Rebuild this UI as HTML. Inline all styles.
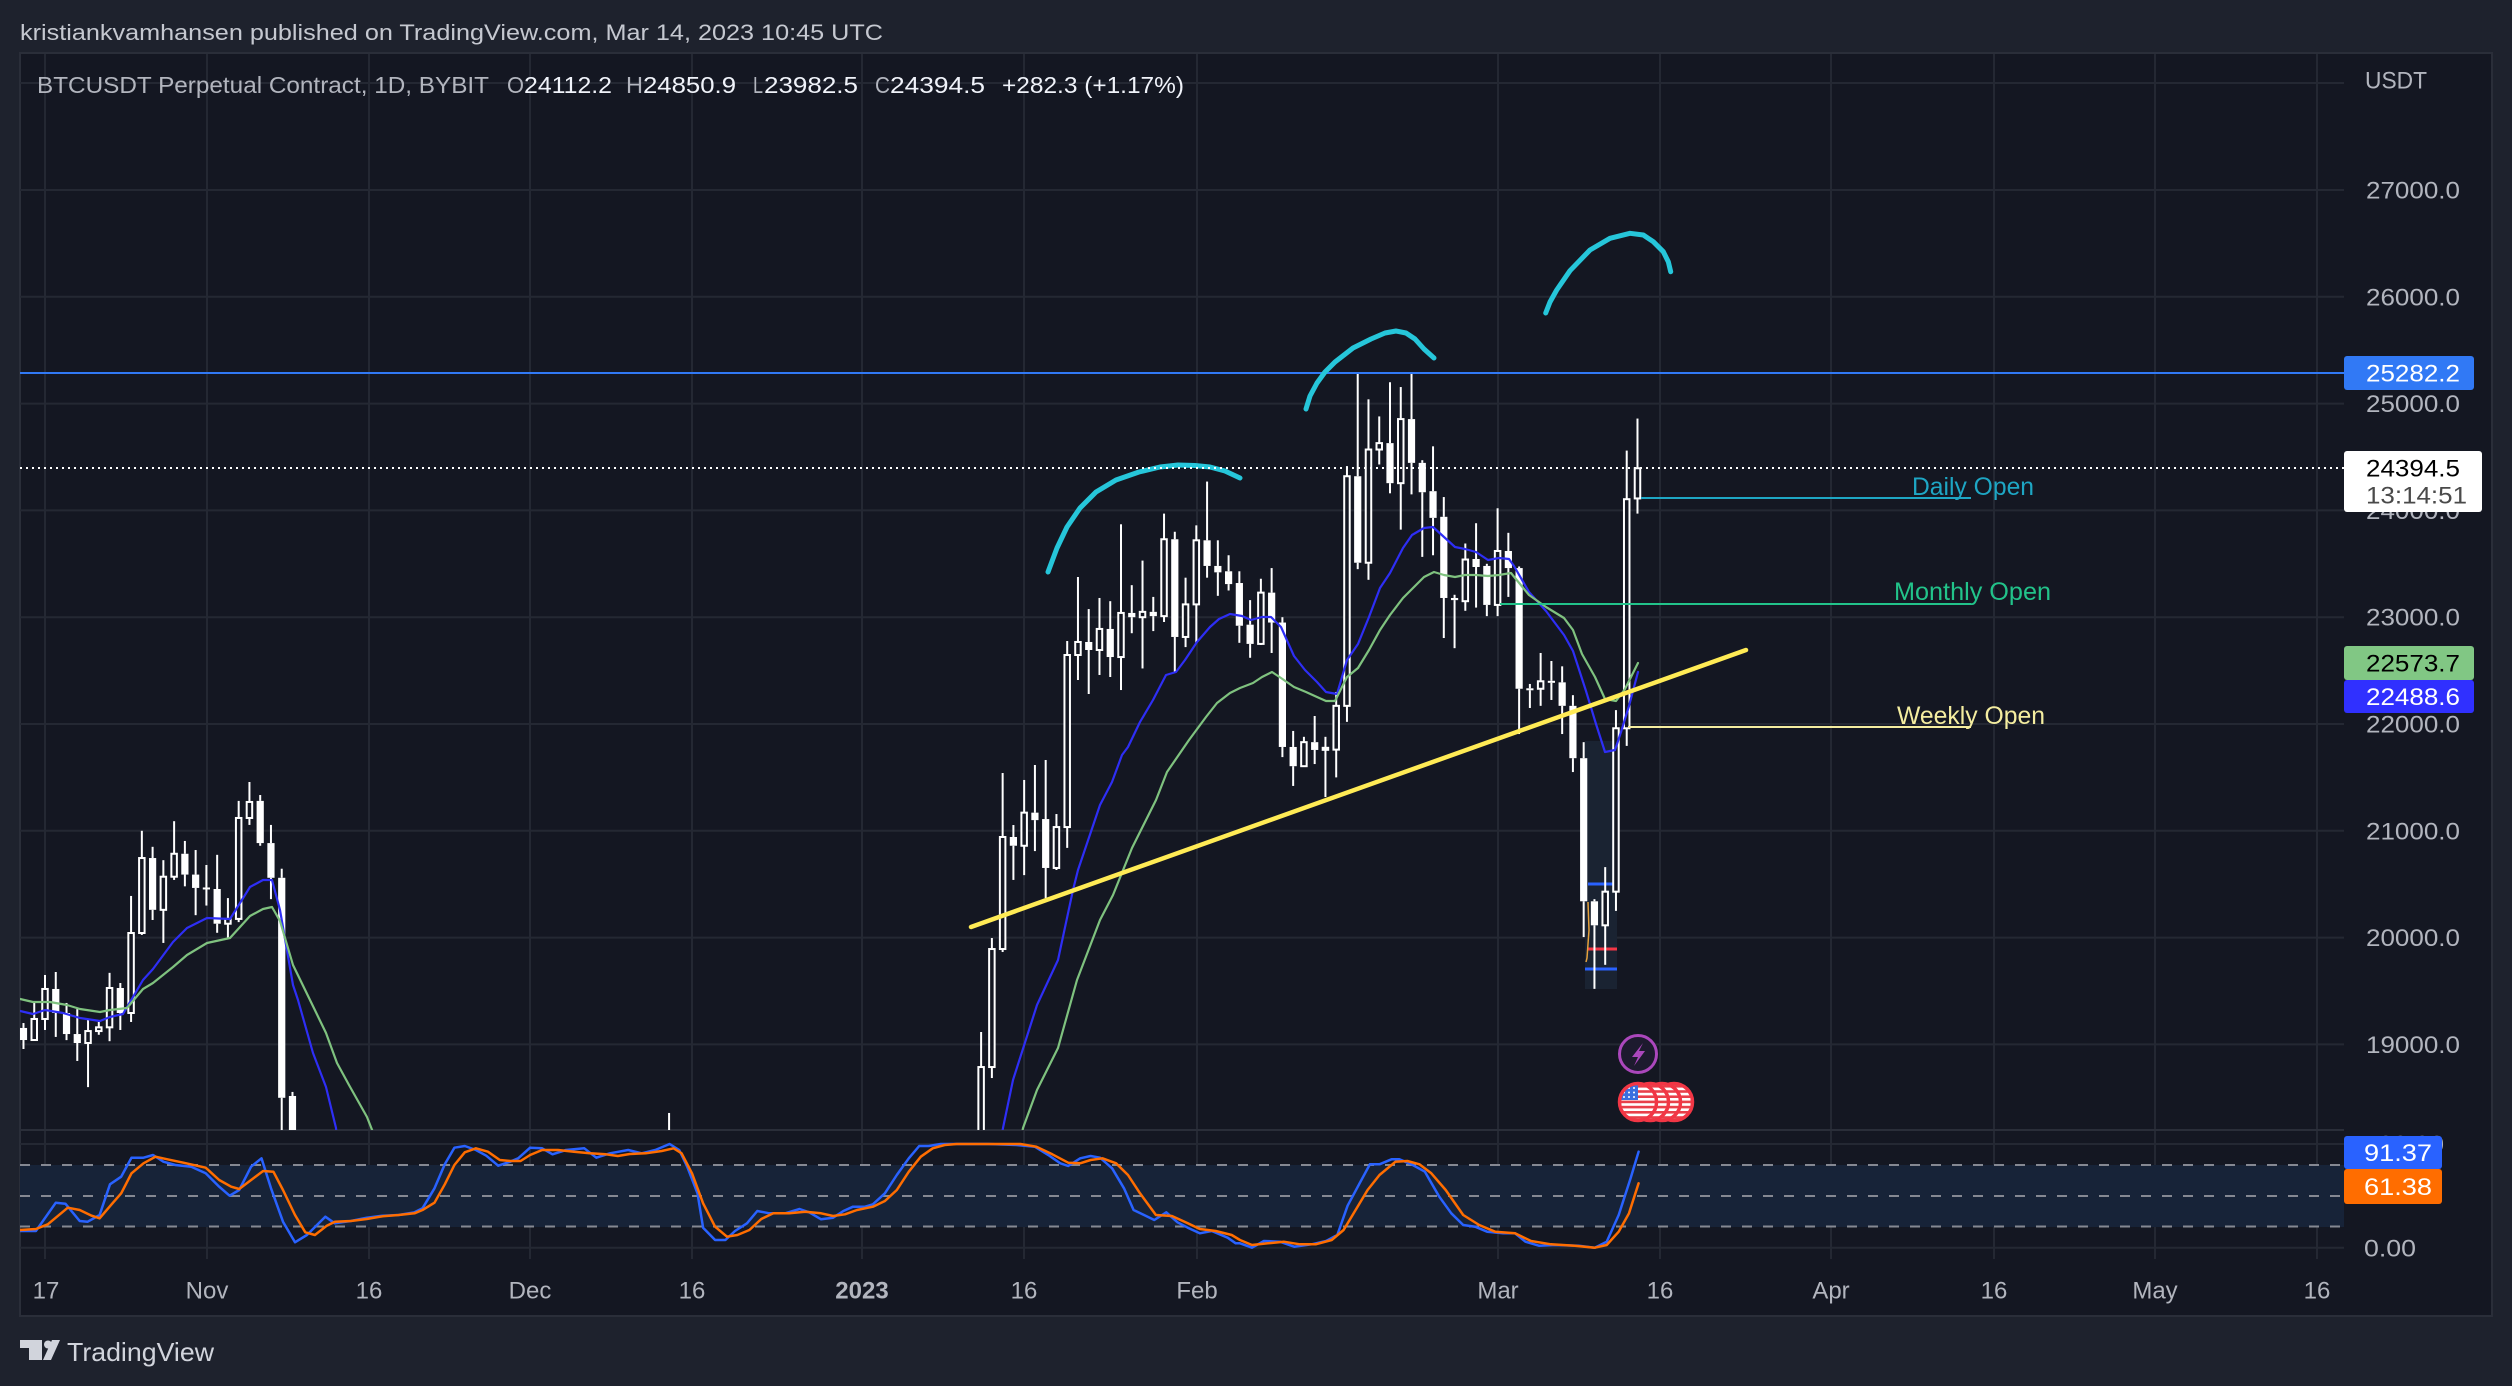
<!DOCTYPE html>
<html><head><meta charset="utf-8"><title>BTCUSDT chart</title>
<style>
html,body{margin:0;padding:0;background:#1e222d;overflow:hidden;}
svg{display:block;}
text{font-family:"Liberation Sans",sans-serif;}
</style></head>
<body>
<svg id="s" width="2512" height="1386" viewBox="0 0 2512 1386" xmlns="http://www.w3.org/2000/svg">
<defs>
<clipPath id="cm"><rect x="20" y="54" width="2324" height="1076"/></clipPath>
<clipPath id="cs"><rect x="20" y="1131" width="2324" height="128"/></clipPath>
<clipPath id="cf1"><circle cx="1638" cy="1102" r="17"/></clipPath>
<clipPath id="cf2"><circle cx="1650" cy="1102" r="17"/></clipPath>
<clipPath id="cf3"><circle cx="1662" cy="1102" r="17"/></clipPath>
<clipPath id="cf4"><circle cx="1674" cy="1102" r="17"/></clipPath>
</defs>
<rect x="0" y="0" width="2512" height="1386" fill="#1e222d"/>
<text x="20" y="40" font-size="22" fill="#c5c8d0" textLength="863" lengthAdjust="spacingAndGlyphs">kristiankvamhansen published on TradingView.com, Mar 14, 2023 10:45 UTC</text>
<rect x="20" y="53" width="2472" height="1263" fill="#141722" stroke="#2a2e39" stroke-width="2"/>
<g id="grid" stroke="#242833" stroke-width="2"></g>
<!-- stoch band -->
<rect x="20" y="1165" width="2324" height="62" fill="#172338"/>
<g stroke="#858892" stroke-width="2" stroke-dasharray="10 11">
<line x1="20" y1="1165" x2="2344" y2="1165"/>
<line x1="20" y1="1196" x2="2344" y2="1196"/>
<line x1="20" y1="1226.5" x2="2344" y2="1226.5"/>
</g>
<line x1="20" y1="1130" x2="2344" y2="1130" stroke="#2a2e39" stroke-width="2"/>
<!-- position tool box -->
<g clip-path="url(#cm)">
<rect x="1585" y="741" width="32" height="248" fill="#1a2332"/>
<line x1="1588" y1="884" x2="1617" y2="884" stroke="#2962ff" stroke-width="3"/>
<line x1="1588" y1="949" x2="1617" y2="949" stroke="#f23645" stroke-width="3"/>
<line x1="1585" y1="969" x2="1617" y2="969" stroke="#2962ff" stroke-width="3"/>
<polyline points="1588,902 1589,930 1587,958 1586,962" fill="none" stroke="#e6a23c" stroke-width="1.5"/>
</g>
<g id="main" clip-path="url(#cm)"></g>
<g id="stoch" clip-path="url(#cs)"></g>
<!-- drawings -->
<g clip-path="url(#cm)">
<line x1="20" y1="373" x2="2344" y2="373" stroke="#3179f5" stroke-width="2"/>
<line x1="971" y1="927" x2="1746" y2="650" stroke="#ffeb55" stroke-width="4.5" stroke-linecap="round"/>
<g fill="none" stroke="#26c6da" stroke-width="5" stroke-linecap="round" stroke-linejoin="round">
<polyline points="1048,572 1057,548 1067,527 1080,508 1096,492 1116,480 1139,472 1160,467 1178,465 1195,465.5 1210,467 1225,471 1240,478"/>
<polyline points="1306,409 1310,396 1317,383 1325,372 1335,362 1353,348 1371,339 1385,333 1396,331 1406,333 1415,339 1424,349 1434,358"/>
<polyline points="1545.7,313 1550,302 1556.7,290 1570,270.7 1590,250 1610,238.3 1630,233.3 1643.3,235 1653.3,241.7 1663.3,251.7 1668.3,261.7 1670.7,271.7"/>
</g>
<line x1="1641" y1="498" x2="1971" y2="498" stroke="#1ea6c4" stroke-width="2"/>
<line x1="1500" y1="604" x2="1971" y2="604" stroke="#22c38a" stroke-width="2"/>
<line x1="1628" y1="727" x2="1971" y2="727" stroke="#f4eda0" stroke-width="2"/>
<line x1="20" y1="468" x2="2344" y2="468" stroke="#ffffff" stroke-width="2" stroke-dasharray="2 4"/>
</g>
<text x="1912" y="495" font-size="25" fill="#1ea6c4" textLength="122" lengthAdjust="spacingAndGlyphs">Daily Open</text>
<text x="1894" y="600" font-size="25" fill="#22c38a" textLength="157" lengthAdjust="spacingAndGlyphs">Monthly Open</text>
<text x="1897" y="724" font-size="25" fill="#f4eda0" textLength="148" lengthAdjust="spacingAndGlyphs">Weekly Open</text>
<!-- icons -->
<circle cx="1638" cy="1054" r="18.5" fill="#1d1a2e" stroke="#ab47bc" stroke-width="3"/>
<polygon points="1643,1043 1632,1057 1638,1057 1634,1066 1645,1051 1639,1051" fill="#ab47bc"/>
<g id="flags"></g>
<!-- legend -->
<text x="37" y="93" font-size="23" fill="#b2b5be" textLength="452" lengthAdjust="spacingAndGlyphs">BTCUSDT Perpetual Contract, 1D, BYBIT</text>
<text x="507" y="93" font-size="23" fill="#b2b5be" textLength="17" lengthAdjust="spacingAndGlyphs">O</text>
<text x="524" y="93" font-size="23" fill="#f0f3fa" textLength="88" lengthAdjust="spacingAndGlyphs">24112.2</text>
<text x="626" y="93" font-size="23" fill="#b2b5be" textLength="17" lengthAdjust="spacingAndGlyphs">H</text>
<text x="643" y="93" font-size="23" fill="#f0f3fa" textLength="93" lengthAdjust="spacingAndGlyphs">24850.9</text>
<text x="753" y="93" font-size="23" fill="#b2b5be" textLength="10" lengthAdjust="spacingAndGlyphs">L</text>
<text x="764" y="93" font-size="23" fill="#f0f3fa" textLength="94" lengthAdjust="spacingAndGlyphs">23982.5</text>
<text x="875" y="93" font-size="23" fill="#b2b5be" textLength="15" lengthAdjust="spacingAndGlyphs">C</text>
<text x="890" y="93" font-size="23" fill="#f0f3fa" textLength="95" lengthAdjust="spacingAndGlyphs">24394.5</text>
<text x="1002" y="93" font-size="23" fill="#f0f3fa" textLength="182" lengthAdjust="spacingAndGlyphs">+282.3 (+1.17%)</text>
<!-- price axis -->
<g font-size="24" fill="#b2b5be">
<text x="2365" y="88.5" textLength="62" lengthAdjust="spacingAndGlyphs">USDT</text>
<text x="2366" y="198.5" textLength="94" lengthAdjust="spacingAndGlyphs">27000.0</text>
<text x="2366" y="305.3" textLength="94" lengthAdjust="spacingAndGlyphs">26000.0</text>
<text x="2366" y="412" textLength="94" lengthAdjust="spacingAndGlyphs">25000.0</text>
<text x="2366" y="518.8" textLength="94" lengthAdjust="spacingAndGlyphs">24000.0</text>
<text x="2366" y="625.6" textLength="94" lengthAdjust="spacingAndGlyphs">23000.0</text>
<text x="2366" y="732.5" textLength="94" lengthAdjust="spacingAndGlyphs">22000.0</text>
<text x="2366" y="839.3" textLength="94" lengthAdjust="spacingAndGlyphs">21000.0</text>
<text x="2366" y="946.1" textLength="94" lengthAdjust="spacingAndGlyphs">20000.0</text>
<text x="2366" y="1052.9" textLength="94" lengthAdjust="spacingAndGlyphs">19000.0</text>
<text x="2364" y="1152.5" textLength="80" lengthAdjust="spacingAndGlyphs">100.00</text>
<text x="2364" y="1256.5" textLength="52" lengthAdjust="spacingAndGlyphs">0.00</text>
</g>
<rect x="2344" y="356" width="130" height="34" rx="3" fill="#3179f5"/>
<text x="2366" y="381.5" font-size="24" fill="#ffffff" textLength="94" lengthAdjust="spacingAndGlyphs">25282.2</text>
<rect x="2344" y="451" width="138" height="61" rx="3" fill="#ffffff"/>
<text x="2366" y="476.5" font-size="24" fill="#000000" textLength="94" lengthAdjust="spacingAndGlyphs">24394.5</text>
<text x="2366" y="503.5" font-size="24" fill="#4a4a4a" textLength="101" lengthAdjust="spacingAndGlyphs">13:14:51</text>
<rect x="2344" y="646" width="130" height="34" rx="3" fill="#81c784"/>
<text x="2366" y="671.5" font-size="24" fill="#000000" textLength="94" lengthAdjust="spacingAndGlyphs">22573.7</text>
<rect x="2344" y="680" width="130" height="33" rx="3" fill="#3030ff"/>
<text x="2366" y="705" font-size="24" fill="#ffffff" textLength="94" lengthAdjust="spacingAndGlyphs">22488.6</text>
<rect x="2344" y="1136" width="98" height="33" rx="3" fill="#2962ff"/>
<text x="2364" y="1161" font-size="24" fill="#ffffff" textLength="68" lengthAdjust="spacingAndGlyphs">91.37</text>
<rect x="2344" y="1169" width="98" height="35" rx="3" fill="#ff6d00"/>
<text x="2364" y="1195" font-size="24" fill="#ffffff" textLength="68" lengthAdjust="spacingAndGlyphs">61.38</text>
<!-- time axis -->
<g font-size="24" fill="#b2b5be" text-anchor="middle">
<text x="46" y="1298.5">17</text>
<text x="207" y="1298.5">Nov</text>
<text x="369" y="1298.5">16</text>
<text x="530" y="1298.5">Dec</text>
<text x="692" y="1298.5">16</text>
<text x="862" y="1298.5" font-weight="bold">2023</text>
<text x="1024" y="1298.5">16</text>
<text x="1197" y="1298.5">Feb</text>
<text x="1498" y="1298.5">Mar</text>
<text x="1660" y="1298.5">16</text>
<text x="1831" y="1298.5">Apr</text>
<text x="1994" y="1298.5">16</text>
<text x="2155" y="1298.5">May</text>
<text x="2317" y="1298.5">16</text>
</g>
<!-- logo -->
<g fill="#d1d4dc">
<rect x="20" y="1340" width="22" height="8"/>
<rect x="29" y="1340" width="13" height="20"/>
<circle cx="48" cy="1344.5" r="4"/>
<polygon points="52,1340 60,1340 51,1360 43,1360"/>
</g>
<text x="67" y="1361" font-size="26" fill="#d1d4dc" textLength="147" lengthAdjust="spacingAndGlyphs">TradingView</text>
</svg>
<script>
(function(){
var NS="http://www.w3.org/2000/svg";
function el(t,a,p){var e=document.createElementNS(NS,t);for(var k in a)e.setAttribute(k,a[k]);p.appendChild(e);return e;}
var X=function(d){return 45+d*10.76;}, Y=function(p){return 724-(p-22000)*0.1068;};
// grid
var g=document.getElementById('grid');
[83,190,296.8,403.6,510.4,617.2,724,830.8,937.6,1044.4].forEach(function(y){el('line',{x1:20,y1:y,x2:2344,y2:y},g);});
[1144,1247.7].forEach(function(y){el('line',{x1:20,y1:y,x2:2344,y2:y},g);});
[45,207,369,530,692,862,1024,1197,1498,1660,1831,1994,2155,2317].forEach(function(x){el('line',{x1:x,y1:54,x2:x,y2:1259},g);});
var m=document.getElementById('main');
function poly(pts,col,w,par){el('polyline',{points:pts.map(function(p){return p[0]+','+p[1];}).join(' '),fill:'none',stroke:col,'stroke-width':w,'stroke-linejoin':'round','stroke-linecap':'round'},par);}
var C=[
[-2,19154,19200,18957,19041],[-1,19041,19388,19041,19238],[0,19238,19650,19135,19519],[1,19519,19678,19070,19294],
[2,19294,19388,19040,19097],[3,19097,19330,18845,19013],[4,19013,19230,18600,19125],[5,19125,19210,19090,19160],
[6,19160,19670,19030,19528],[7,19528,19575,19135,19294],[8,19294,20390,19210,20043],[9,20043,21000,20025,20745],
[10,20745,20850,20165,20260],[11,20260,20725,19950,20570],[12,20570,21090,20540,20785],[13,20785,20905,20480,20590],
[14,20590,20820,20210,20465],[15,20465,20680,20300,20455],[16,20455,20775,20045,20130],[17,20130,20370,20000,20175],
[18,20175,21280,20145,21120],[19,21120,21457,21055,21270],[20,21280,21335,20860,20885],[21,20885,21055,20360,20560],
[22,20560,20645,17000,18500],[23,18517,18555,15500,15900],[58,17800,18358,17200,17400],
[87,17940,19116,17900,18788],[88,18788,19996,18685,19893],[89,19893,21541,19865,20942],[90,20942,21054,20540,20860],
[91,20860,21476,20585,21170],[92,21170,21616,20810,21100],[93,21110,21663,20370,20652],[94,20652,21157,20633,21035],
[95,21035,22777,20840,22646],[96,22646,23376,22412,22768],[97,22768,23076,22281,22693],[98,22693,23180,22459,22890],
[99,22890,23150,22440,22627],[100,22627,23870,22318,23040],[101,23040,23300,22850,23000],[102,23000,23530,22520,23050],
[103,23050,23190,22870,23010],[104,23010,23970,22955,23730],[105,23730,23800,22487,22815],[106,22815,23370,22720,23120],
[107,23120,23860,22760,23720],[108,23720,24270,23370,23480],[109,23480,23720,23200,23420],[110,23430,23580,23250,23310],
[111,23320,23430,22760,22920],[112,22930,23160,22620,22750],[113,22750,23360,22740,23230],[114,23230,23460,22665,22950],
[115,22950,23000,21690,21785],[116,21785,21935,21420,21605],[117,21605,21880,21600,21830],[118,21830,22075,21625,21757],
[119,21765,21880,21316,21770],[120,21760,22300,21500,22170],[121,22170,24415,22020,24320],[122,24320,25295,23450,23510],
[123,23510,25040,23350,24570],[124,24570,24880,24430,24630],[125,24630,25200,24160,24255],[126,24255,25155,23820,24855],
[127,24855,25295,24150,24445],[128,24445,24470,23565,24170],[129,24180,24600,23580,23930],[130,23940,24125,22805,23180],
[131,23180,23210,22710,23160],[132,23150,23690,23060,23540],[133,23545,23880,23090,23470],[134,23480,23500,23010,23115],
[135,23115,24020,23010,23620],[136,23620,23790,23190,23460],[137,23460,23475,21906,22330],[138,22330,22375,22150,22320],
[139,22330,22665,22170,22400],[140,22400,22590,22225,22390],[141,22390,22540,21906,22170],[142,22170,22270,21550,21680],
[143,21680,21830,20005,20340],[144,20340,20360,19520,20115],[145,20115,20660,19745,20430],[146,20430,22130,20250,21960],
[147,21960,24560,21795,24105],[148,24112,24860,23970,24394.5]];
C.forEach(function(c){var x=X(c[0]),o=c[1],h=c[2],l=c[3],cl=c[4],up=cl>=o;
 var t=Y(Math.max(o,cl)),b=Y(Math.min(o,cl));if(b-t<2){var mm=(t+b)/2;t=mm-1;b=mm+1;}
 el('line',{x1:x,x2:x,y1:Y(h),y2:t,stroke:'#fff','stroke-width':2},m);
 el('line',{x1:x,x2:x,y1:b,y2:Y(l),stroke:'#fff','stroke-width':2},m);
 if(up)el('rect',{x:x-2.75,y:t,width:5.5,height:Math.max(b-t,1),fill:'#141722',stroke:'#fff','stroke-width':2},m);
 else el('rect',{x:x-3.6,y:t,width:7.2,height:b-t,fill:'#fff'},m);
});
// EMAs
poly([[20,1011],[33,1014],[45,1010],[63,1013],[80,1018],[100,1021],[110,1017],[123,1014],[143,980],[153,969],[173,942],[187,928],[207,918],[230,919],[250,887],[263,880],[272,880],[280,910],[293,985],[298,1000],[313,1053],[326,1087],[336,1128],[337,1140]],'#2e2ef5',2.2,m);
poly([[20,999],[33,1002],[50,1002],[67,1005],[80,1009],[100,1012],[110,1010],[127,1008],[143,989],[153,983],[173,967],[187,955],[207,943],[230,938],[250,916],[263,909],[272,907],[280,921],[293,965],[310,1000],[326,1033],[337,1063],[349,1085],[367,1117],[376,1140]],'#7fc27f',2.2,m);
poly([[1001,1140],[1003,1128],[1013,1080],[1037,1005],[1058,960],[1073,890],[1078,870],[1100,805],[1112,782],[1122,755],[1128,747],[1140,722],[1153,700],[1166,675],[1176,672],[1185,660],[1197,642],[1210,627],[1219,619],[1230,614],[1242,616],[1251,620],[1262,617],[1271,617],[1281,627],[1294,656],[1305,670],[1317,682],[1326,692],[1337,694],[1347,660],[1358,644],[1369,617],[1380,588],[1390,573],[1403,548],[1412,535],[1424,528],[1433,527],[1444,537],[1455,547],[1465,549],[1476,552],[1488,560],[1499,558],[1509,559],[1514,566],[1529,592],[1546,611],[1564,635],[1573,651],[1586,691],[1596,724],[1605,752],[1615,750],[1621,732],[1629,706],[1638,672]],'#2e2ef5',2.2,m);
poly([[1021,1140],[1023,1128],[1037,1090],[1058,1048],[1077,980],[1100,920],[1113,895],[1132,848],[1140,832],[1156,800],[1167,772],[1189,740],[1206,717],[1217,703],[1230,693],[1240,688],[1253,683],[1262,677],[1272,672],[1281,678],[1294,687],[1306,692],[1317,697],[1326,701],[1335,701],[1347,677],[1358,668],[1369,650],[1380,630],[1390,615],[1403,598],[1414,587],[1424,577],[1434,572],[1444,575],[1455,577],[1465,575],[1476,575],[1488,576],[1499,575],[1511,573],[1529,595],[1546,607],[1564,618],[1573,630],[1582,654],[1595,677],[1605,699],[1616,701],[1625,689],[1638,663]],'#7fc27f',2.2,m);
// stoch
var s=document.getElementById('stoch');
function cv7(a){return a.filter(function(p){return p[0]/1.2544<=1240.5;}).map(function(p){return [(p[0]/1.2544).toFixed(1),(1125+p[1]/3).toFixed(1)];});}
function cv8(a){return a.map(function(p){return [(1240+p[0]/1.2544).toFixed(1),(1125+p[1]/3).toFixed(1)];});}
var K7=[[25,318],[45,318],[70,233],[82,236],[100,288],[110,290],[125,270],[138,178],[152,155],[165,98],[180,98],[192,90],[205,110],[220,120],[240,125],[258,145],[275,185],[288,212],[300,195],[315,125],[328,100],[340,190],[355,290],[370,352],[385,330],[408,275],[420,295],[440,288],[460,278],[480,272],[500,270],[520,262],[530,250],[545,190],[558,118],[570,68],[583,63],[597,75],[610,92],[625,122],[640,110],[650,100],[665,68],[680,70],[693,88],[710,75],[733,70],[748,98],[765,85],[788,75],[805,85],[822,75],[840,57],[852,75],[862,125],[875,205],[882,308],[897,345],[910,345],[922,318],[937,295],[950,258],[965,265],[985,265],[1003,252],[1015,262],[1030,283],[1045,278],[1058,258],[1070,245],[1085,245],[1095,238],[1110,205],[1125,150],[1140,100],[1153,63],[1165,63],[1180,57],[1200,57],[1240,57],[1275,60],[1298,65],[1315,90],[1330,115],[1340,123],[1355,100],[1368,93],[1380,98],[1395,130],[1410,190],[1422,255],[1448,285],[1463,262],[1477,292],[1490,308],[1505,325],[1520,318],[1540,338],[1550,355]];
var K8=[[0,355],[15,368],[30,348],[50,350],[68,365],[90,358],[108,348],[122,330],[135,242],[150,175],[163,118],[175,118],[190,103],[200,103],[215,118],[232,140],[250,215],[265,265],[280,300],[295,305],[310,320],[330,325],[345,325],[358,350],[375,362],[395,360],[425,362],[445,368],[460,350],[475,270],[490,160],[500,80]];
var D7=[[25,315],[45,312],[60,298],[85,248],[100,255],[115,272],[125,280],[140,238],[152,205],[165,145],[180,115],[195,95],[210,103],[230,113],[258,128],[275,165],[290,185],[300,192],[315,165],[330,138],[343,140],[355,195],[370,270],[383,322],[395,330],[410,302],[420,290],[440,288],[460,282],[480,274],[500,270],[520,265],[530,255],[545,233],[558,178],[570,120],[583,82],[597,70],[612,80],[627,105],[640,108],[653,108],[665,90],[680,75],[700,75],[720,80],[740,85],[760,88],[775,93],[790,87],[810,85],[830,78],[845,70],[855,85],[868,145],[882,235],[897,305],[912,335],[925,330],[940,315],[955,282],[970,265],[990,265],[1010,260],[1030,265],[1045,273],[1060,268],[1075,255],[1095,245],[1110,228],[1125,195],[1140,140],[1155,95],[1170,70],[1185,60],[1200,57],[1280,57],[1300,65],[1320,88],[1340,113],[1355,115],[1368,105],[1383,100],[1400,115],[1415,150],[1430,205],[1450,270],[1470,273],[1490,295],[1505,312],[1525,318],[1545,330]];
var D8=[[0,345],[15,360],[35,355],[55,350],[75,358],[95,358],[115,345],[130,315],[145,255],[160,195],[175,150],[195,110],[210,108],[225,118],[240,145],[258,195],[280,270],[300,300],[320,320],[345,325],[365,348],[390,358],[420,362],[445,368],[460,360],[475,320],[488,265],[500,175]];
poly(cv7(K7).concat(cv8(K8)),'#2962ff',2.5,s);
poly(cv7(D7).concat(cv8(D8)),'#ff6d00',2.5,s);
// flags
var f=document.getElementById('flags');
[[1674,4],[1662,3],[1650,2],[1638,1]].forEach(function(a){var cx=a[0],id=a[1];
 var gg=el('g',{'clip-path':'url(#cf'+id+')'},f);
 el('rect',{x:cx-18,y:1084,width:36,height:36,fill:'#ffffff'},gg);
 for(var i=0;i<7;i++){el('rect',{x:cx-18,y:1085+i*5.2,width:36,height:2.6,fill:'#e8404a'},gg);}
 if(id==1){el('rect',{x:cx-18,y:1084,width:18,height:16,fill:'#3a6fe0'},gg);
  for(var r=0;r<3;r++)for(var q=0;q<3;q++)el('circle',{cx:cx-14+q*5,cy:1088+r*4.5,r:1,fill:'#fff'},gg);}
 el('circle',{cx:cx,cy:1102,r:18.5,fill:'none',stroke:'#f23645','stroke-width':3.5},f);
});
})();
</script>
</body></html>
